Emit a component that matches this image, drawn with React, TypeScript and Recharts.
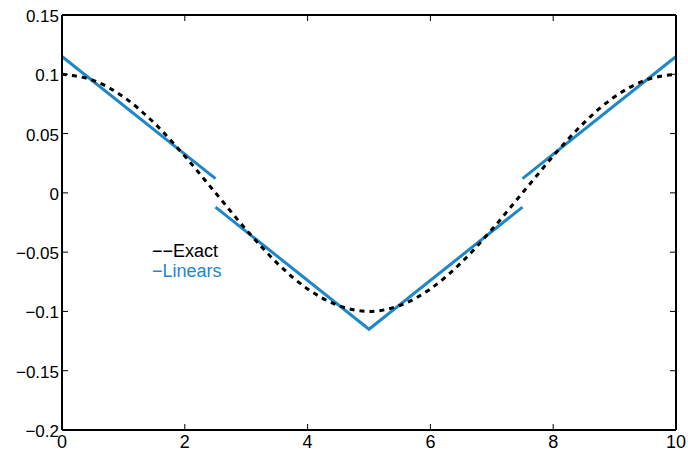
import React from 'react';
import { Line, LineChart, XAxis, YAxis } from 'recharts';

// exact solution
const exactX = [0, 0.5, 1, 1.5, 2, 2.5, 3, 3.5, 4, 4.5, 5, 5.5, 6, 6.5, 7, 7.5, 8, 8.5, 9, 9.5, 10];
const exactY = [
	0.1, 0.095, 0.081, 0.059, 0.031, 0, -0.031, -0.059, -0.081, -0.095, -0.1, -0.095, -0.081, -0.059, -0.031, 0, 0.031,
	0.059, 0.081, 0.095, 0.1,
];

// piecewise linear pieces (middle two join at x = 5)
const linearX = [[0, 2.5], [2.5, 5, 7.5], [7.5, 10]];
const linearY = [[0.115, 0.012], [-0.012, -0.115, -0.012], [0.012, 0.115]];

const xTicks = [0, 2, 4, 6, 8, 10];
const yTicks = [0.15, 0.1, 0.05, 0, -0.05, -0.1, -0.15, -0.2];

const legendLabels = ['\u2212\u2212Exact', '\u2212Linears'];

const BLUE = '#1d87c9';
const FONT = '"Liberation Sans", Arial, Helvetica, sans-serif';

const exactData = exactX.map((x, i) => ({ x, y: exactY[i] }));
const linearData = linearX.map((xs, j) => xs.map((x, i) => ({ x, y: linearY[j][i] })));

const fmt = (v: number) => (v < 0 ? '\u2212' + String(-v) : String(v));

const BottomTick = ({ x, y, payload }: any) => (
	<g>
		<line x1={x} y1={y} x2={x} y2={y - 6} stroke='#000' strokeWidth={1} />
		<text x={x} y={y + 18} textAnchor='middle' fontSize={18} fontFamily={FONT} fill='#000'>
			{fmt(payload.value)}
		</text>
	</g>
);

const TopTick = ({ x, y }: any) => <line x1={x} y1={y} x2={x} y2={y + 6} stroke='#000' strokeWidth={1} />;

const LeftTick = ({ x, y, payload }: any) => (
	<g>
		<line x1={x} y1={y} x2={x + 6} y2={y} stroke='#000' strokeWidth={1} />
		<text x={x - 3} y={y + 7} textAnchor='end' fontSize={17} fontFamily={FONT} fill='#000'>
			{fmt(payload.value)}
		</text>
	</g>
);

const RightTick = ({ x, y }: any) => <line x1={x} y1={y} x2={x - 6} y2={y} stroke='#000' strokeWidth={1} />;

const axisLine = { stroke: '#000', strokeWidth: 2 };

const App = () => {
	return (
		<div style={{ position: 'absolute', left: 0, top: 0, width: 688, height: 458, background: '#fff' }}>
			<LineChart width={688} height={458} margin={{ top: 14, right: 11, bottom: 0, left: 0 }}>
				<XAxis xAxisId='b' dataKey='x' type='number' domain={[0, 10]} ticks={xTicks} height={28} tickSize={0} tickMargin={0} tickLine={false} axisLine={axisLine} tick={<BottomTick />} interval={0} />
				<XAxis xAxisId='t' orientation='top' dataKey='x' type='number' domain={[0, 10]} ticks={xTicks} height={1} tickSize={0} tickMargin={0} tickLine={false} axisLine={axisLine} tick={<TopTick />} interval={0} />
				<YAxis yAxisId='l' type='number' domain={[-0.2, 0.15]} ticks={yTicks} width={62} tickSize={0} tickMargin={0} tickLine={false} axisLine={axisLine} tick={<LeftTick />} interval={0} allowDataOverflow />
				<YAxis yAxisId='r' orientation='right' type='number' domain={[-0.2, 0.15]} ticks={yTicks} width={1} tickSize={0} tickMargin={0} tickLine={false} axisLine={axisLine} tick={<RightTick />} interval={0} allowDataOverflow />
				{linearData.map((d, i) => (
					<Line key={i} xAxisId='b' yAxisId='l' data={d} dataKey='y' type='linear' stroke={BLUE} strokeWidth={3} dot={false} isAnimationActive={false} />
				))}
				<Line xAxisId='b' yAxisId='l' data={exactData} dataKey='y' type='monotone' stroke='#000' strokeWidth={3} strokeDasharray='5 5' dot={false} isAnimationActive={false} />
				<Line xAxisId='t' yAxisId='r' data={exactData} dataKey='y' stroke='transparent' strokeWidth={0} dot={false} isAnimationActive={false} legendType='none' />
			</LineChart>
			<svg width={688} height={458} style={{ position: 'absolute', left: 0, top: 0, pointerEvents: 'none' }}>
				<text x={152} y={257} fontSize={18} fontFamily={FONT} fill='#000'>
					{legendLabels[0]}
				</text>
				<text x={152} y={277} fontSize={18} fontFamily={FONT} fill={BLUE}>
					{legendLabels[1]}
				</text>
			</svg>
		</div>
	);
};

export default App;
